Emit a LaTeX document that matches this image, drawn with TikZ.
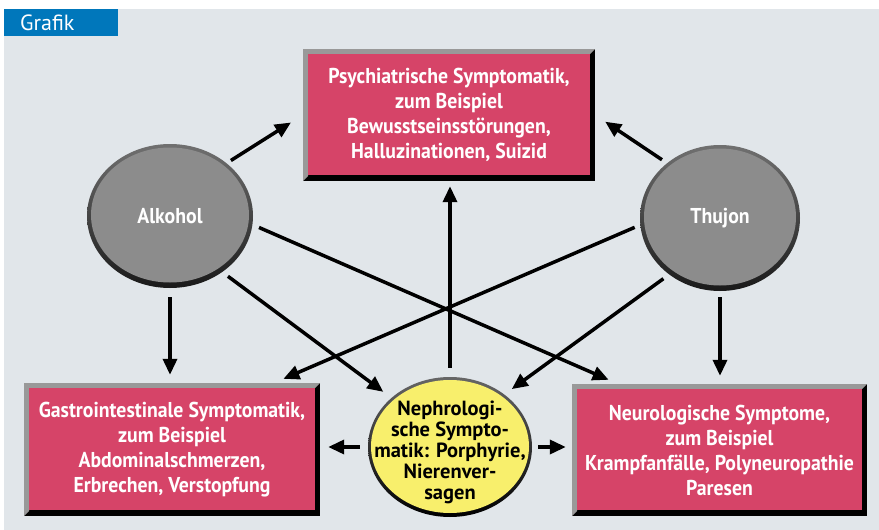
\documentclass[tikz,border=0pt]{standalone}
\usepackage{fontspec}
\setmainfont{PT Sans}[FakeStretch=0.92]
\newfontfamily\tabfont{PT Sans}
\newfontfamily\nepfont{PT Sans}
\usetikzlibrary{shapes.geometric,arrows.meta,calc}
\definecolor{panel}{HTML}{E1E6EA}
\definecolor{tabblue}{HTML}{0077BB}
\definecolor{crim}{HTML}{D64468}
\definecolor{bevelgrey}{HTML}{999999}
\definecolor{ellgrey}{HTML}{8C8C8C}
\definecolor{ellrim}{HTML}{707070}
\definecolor{yel}{HTML}{F8EF6C}
\tikzset{
  boxnode/.style={rectangle, inner sep=0pt, fill=black, text=white,
    font=\fontsize{21.5}{25}\selectfont\bfseries, align=center,
    path picture={
      \fill[bevelgrey] (path picture bounding box.south west) -- (path picture bounding box.north west)
        -- (path picture bounding box.north east) -- ([shift={(-5pt,-5pt)}]path picture bounding box.north east)
        -- ([shift={(5pt,-5pt)}]path picture bounding box.north west) -- ([shift={(5pt,5pt)}]path picture bounding box.south west) -- cycle;
      \fill[crim] ([shift={(5pt,6pt)}]path picture bounding box.south west) rectangle ([shift={(-5pt,-5pt)}]path picture bounding box.north east);
    }},
  greyell/.style={ellipse, inner sep=0pt, top color=ellrim, bottom color=black!90,
    text=white, font=\fontsize{21.5}{25}\selectfont\bfseries},
  arr/.style={line width=3.5pt, -{Triangle[length=16pt,width=14pt]}}
}
\begin{document}
\begin{tikzpicture}[x=1pt,y=-1pt]
\useasboundingbox (0,0) rectangle (879,530);
\fill[white] (0,0) rectangle (879,530);
\fill[panel] (4,9) rectangle (879,530);
\node[fill=tabblue, minimum width=114pt, minimum height=27pt, inner sep=0pt, anchor=north west] (tab) at (4,9) {};
\node[text=white, font=\tabfont\fontsize{22}{24}\selectfont, anchor=west, inner sep=0pt] (tabtext) at (20,23) {Grafik};
% boxes
\node[boxnode, minimum width=292pt, minimum height=132pt] (top) at (449,115)
  {Psychiatrische Symptomatik,\\ zum Beispiel\\ Bewusstseinsstörungen,\\ Halluzinationen, Suizid};
\node[boxnode, minimum width=296pt, minimum height=133pt] (left) at (172,449.5)
  {Gastrointestinale Symptomatik,\\ zum Beispiel\\ Abdominalschmerzen,\\ Erbrechen, Verstopfung};
\node[boxnode, minimum width=295pt, minimum height=132pt] (right) at (719.5,450)
  {Neurologische Symptome,\\ zum Beispiel\\ Krampfanfälle, Polyneuropathie\\ Paresen};
% ellipses
\node[greyell, minimum width=166pt, minimum height=144pt,
  path picture={\fill[ellgrey] ([yshift=1pt]path picture bounding box.center) ellipse [x radius=79pt, y radius=67.5pt];}]
  (alk) at (170,216) {Alkohol};
\node[greyell, minimum width=160pt, minimum height=146pt,
  path picture={\fill[ellgrey] ([yshift=1pt]path picture bounding box.center) ellipse [x radius=76pt, y radius=68.5pt];}]
  (thu) at (720,218) {Thujon};
\node[ellipse, inner sep=0pt, minimum width=164pt, minimum height=140pt, top color=black!60, bottom color=black,
  text=black, font=\nepfont\fontsize{20.5}{21}\selectfont\bfseries,
  path picture={\fill[yel] ([yshift=0.5pt]path picture bounding box.center) ellipse [x radius=79pt, y radius=66.5pt];}]
  (nep) at (450,447) {\makebox[0pt]{\smash{\raisebox{-11pt}{\begin{tabular}{@{}c@{}}Nephrologi-\\ sche Sympto-\\ matik: Porphyrie,\\ Nierenver-\\ sagen\end{tabular}}}}};
% arrows
\draw[arr, shorten <=5pt, shorten >=14pt] (alk.43) -- (top.west);
\draw[arr, shorten <=6pt, shorten >=12pt] (thu.134) -- (top.east);
\draw[arr, shorten <=9pt, shorten >=5pt] (nep.north) -- (nep.north |- top.south);
\draw[arr, shorten <=9pt, shorten >=8pt] (alk.south) -- (alk.south |- left.north);
\draw[arr, shorten <=6pt, shorten >=8pt] (thu.south) -- (thu.south |- right.north);
\draw[arr, shorten <=7pt, shorten >=10pt] (alk.-6) -- ([xshift=46pt]right.north west);
\draw[arr, shorten <=6pt, shorten >=10pt] (thu.185) -- ([xshift=-46pt]left.north east);
\draw[arr, shorten <=7pt, shorten >=10pt] (alk.-47) -- (nep.140);
\draw[arr, shorten <=7pt, shorten >=9pt] (thu.228) -- (nep.44);
\draw[arr, shorten <=8pt, shorten >=8pt] (nep.west) -- (nep.west -| left.east);
\draw[arr, shorten <=6pt, shorten >=6pt] (nep.east) -- (nep.east -| right.west);
\end{tikzpicture}
\end{document}
